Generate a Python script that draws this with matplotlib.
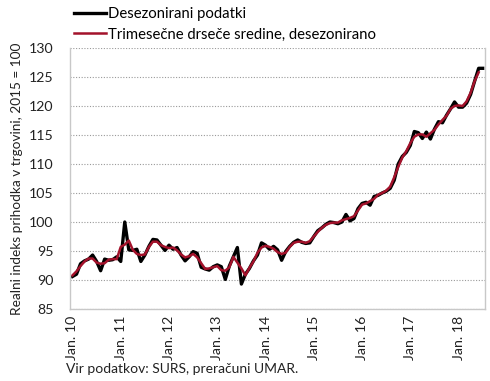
import numpy as np
from matplotlib import pyplot as plt

plt.rcParams['font.family'] = ['Lato', 'DejaVu Sans']

# monthly, Jan 2010 - Jul 2018
desez = [90.6, 91.0, 92.8, 93.3, 93.6, 94.3, 93.2, 91.6, 93.6, 93.4, 93.5, 94.0,
         93.2, 100.0, 95.2, 95.1, 95.3, 93.2, 94.3, 95.8, 97.0, 96.9, 96.0, 95.1,
         96.0, 95.3, 95.6, 94.3, 93.3, 94.0, 94.9, 94.6, 92.2, 91.9, 91.7, 92.3,
         92.6, 92.3, 90.1, 92.4, 94.0, 95.6, 89.3, 91.0, 92.0, 93.3, 94.3, 96.4,
         96.0, 95.3, 95.8, 95.2, 93.4, 94.9, 95.8, 96.5, 96.9, 96.5, 96.3, 96.4,
         97.5, 98.5, 99.0, 99.6, 100.0, 99.9, 99.7, 100.0, 101.3, 100.2, 100.6, 102.3,
         103.2, 103.4, 102.9, 104.4, 104.6, 105.0, 105.3, 105.8, 107.2, 110.0, 111.3, 112.0,
         113.2, 115.6, 115.4, 114.4, 115.5, 114.3, 116.0, 117.3, 117.1, 118.4, 119.5, 120.7,
         119.8, 119.8, 120.5, 122.0, 124.3, 126.5, 126.5]

trimes = [90.8, 91.5, 92.4, 93.2, 93.7, 93.7, 93.0, 92.8, 92.9, 93.5, 93.6, 93.6,
          95.7, 96.1, 96.8, 95.2, 94.5, 94.3, 94.4, 95.7, 96.6, 96.6, 96.0, 95.7,
          95.5, 95.6, 95.1, 94.4, 93.9, 94.1, 94.5, 93.9, 92.9, 91.9, 92.0, 92.2,
          92.4, 91.7, 91.6, 92.2, 94.0, 93.0, 92.0, 90.8, 92.1, 93.2, 94.7, 95.6,
          95.9, 95.7, 95.4, 94.8, 94.5, 94.7, 95.7, 96.4, 96.6, 96.6, 96.4, 96.7,
          97.5, 98.3, 99.0, 99.5, 99.8, 99.9, 99.9, 100.3, 100.5, 100.7, 101.0, 102.0,
          103.0, 103.2, 103.6, 104.0, 104.7, 105.0, 105.4, 106.1, 107.7, 109.5, 111.1, 112.2,
          113.6, 114.7, 115.1, 115.1, 114.7, 115.3, 115.9, 116.8, 117.6, 118.3, 119.5, 120.0,
          120.1, 120.0, 120.8, 122.3, 124.3, 125.8]

years = ['10', '11', '12', '13', '14', '15', '16', '17', '18']
tick_labels = ['Jan. ' + y for y in years]

fig = plt.figure(figsize=(4.9, 3.81), dpi=100)
ax = fig.add_axes([0.143, 0.189, 0.847, 0.685])

ax.plot(np.arange(len(desez)), desez, color='black', lw=2.4,
        solid_joinstyle='round', label='Desezonirani podatki')
ax.plot(np.arange(len(trimes)), trimes, color='#A3122B', lw=1.8,
        solid_joinstyle='round', label='Trimesečne drseče sredine, desezonirano')

ax.set_xlim(-0.6, 102.6)
ax.set_ylim(85, 130)
ax.set_yticks(np.arange(85, 131, 5))
ax.set_xticks(np.arange(0, 97, 12))
ax.set_xticklabels(tick_labels, rotation=90)
ax.tick_params(axis='both', length=0, labelsize=10.2, colors='#222222')
ax.tick_params(axis='y', pad=12)
ax.tick_params(axis='x', pad=5)

ax.yaxis.grid(True, linestyle=(0, (1, 1.5)), color='#9a9a9a', lw=0.8)
ax.set_axisbelow(True)
ax.spines['top'].set_visible(False)
for s in ['left', 'right', 'bottom']:
    ax.spines[s].set_color('#c8c8c8')
    ax.spines[s].set_linewidth(1.0)

ax.set_ylabel('Realni indeks prihodka v trgovini, 2015 = 100', fontsize=9.8,
              color='#222222', labelpad=4)

ax.legend(loc='upper left', bbox_to_anchor=(-0.005, 1.18), frameon=False,
          fontsize=10.7, handlelength=2.15, handletextpad=0.15, labelspacing=0.45,
          borderaxespad=0)

fig.text(0.135, 0.022, 'Vir podatkov: SURS, preračuni UMAR.', fontsize=10, color='#222222')

plt.savefig('out.png', dpi=100)
